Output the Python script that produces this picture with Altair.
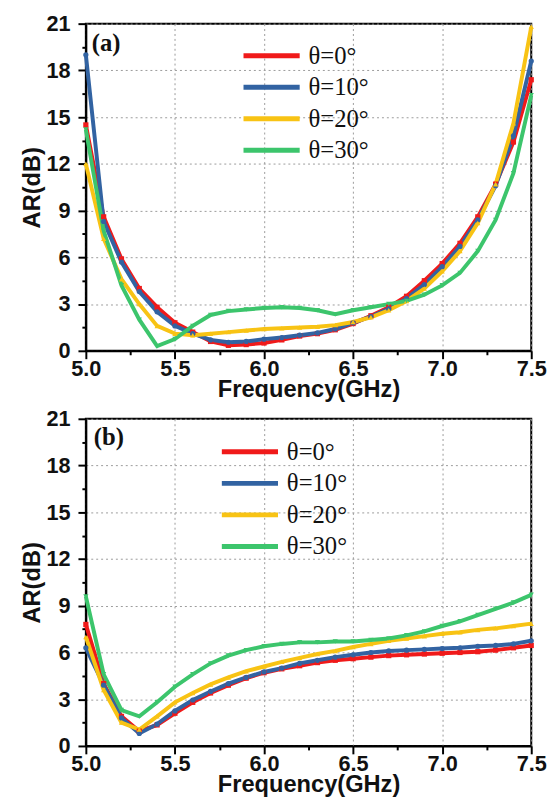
import altair as alt
import pandas as pd

freq = [5.0, 5.1, 5.2, 5.3, 5.4, 5.5, 5.6, 5.7, 5.8, 5.9, 6.0, 6.1, 6.2,
        6.3, 6.4, 6.5, 6.6, 6.7, 6.8, 6.9, 7.0, 7.1, 7.2, 7.3, 7.4, 7.5]

labels = ["θ=0°", "θ=10°", "θ=20°", "θ=30°"]
colors = ["#f01a1a", "#3263a2", "#f8c314", "#3cc56c"]
shapes = ["square", "circle", "triangle-up", "triangle-down"]

# panel (a)
a_0 = [14.5, 8.6, 5.9, 4.0, 2.8, 1.8, 1.2, 0.6, 0.35, 0.4, 0.5, 0.7, 0.95,
       1.1, 1.35, 1.75, 2.25, 2.8, 3.5, 4.5, 5.6, 6.9, 8.6, 10.7, 13.4, 17.4]
a_10 = [19.0, 8.3, 5.7, 3.8, 2.5, 1.6, 1.1, 0.7, 0.55, 0.6, 0.75, 0.85, 1.0,
        1.15, 1.4, 1.8, 2.2, 2.7, 3.35, 4.25, 5.4, 6.7, 8.4, 10.6, 13.8, 18.6]
a_20 = [12.0, 7.2, 4.6, 3.0, 1.6, 1.1, 1.0, 1.1, 1.2, 1.3, 1.4, 1.45, 1.5,
        1.55, 1.65, 1.85, 2.15, 2.6, 3.2, 4.0, 5.1, 6.4, 8.2, 10.7, 14.6, 20.8]
a_30 = [14.2, 7.7, 4.2, 2.0, 0.3, 0.75, 1.6, 2.3, 2.55, 2.65, 2.75, 2.8, 2.75,
        2.6, 2.35, 2.6, 2.8, 3.0, 3.2, 3.6, 4.2, 5.0, 6.4, 8.4, 11.4, 16.4]

# panel (b)
b_0 = [7.8, 4.0, 1.9, 0.95, 1.35, 2.1, 2.8, 3.4, 3.9, 4.35, 4.7, 4.95, 5.15,
       5.35, 5.5, 5.6, 5.7, 5.8, 5.85, 5.9, 5.95, 6.0, 6.05, 6.15, 6.3, 6.45]
b_10 = [6.3, 3.9, 1.8, 0.8, 1.4, 2.25, 2.95, 3.5, 4.0, 4.4, 4.75, 5.0, 5.3,
        5.5, 5.7, 5.85, 6.0, 6.1, 6.15, 6.2, 6.25, 6.3, 6.4, 6.45, 6.55, 6.75]
b_20 = [7.0, 3.6, 1.5, 1.05, 1.9, 2.8, 3.4, 3.95, 4.4, 4.8, 5.1, 5.4, 5.65,
        5.9, 6.1, 6.35, 6.55, 6.75, 6.9, 7.05, 7.2, 7.3, 7.45, 7.55, 7.7, 7.85]
b_30 = [9.6, 4.6, 2.3, 1.9, 2.8, 3.8, 4.6, 5.3, 5.8, 6.15, 6.4, 6.55, 6.65,
        6.65, 6.7, 6.7, 6.8, 6.9, 7.1, 7.35, 7.7, 8.0, 8.4, 8.8, 9.2, 9.7]

x_major = [5.0, 5.5, 6.0, 6.5, 7.0, 7.5]
x_minor = [5.25, 5.75, 6.25, 6.75, 7.25]
y_major = [0, 3, 6, 9, 12, 15, 18, 21]
y_minor = [1.5, 4.5, 7.5, 10.5, 13.5, 16.5, 19.5]

W, H = 452, 332
AXIS_FONT = "Liberation Sans"


def make_df(series):
    rows = []
    for lab, vals in zip(labels, series):
        for f, v in zip(freq, vals):
            rows.append({"f": f, "ar": v, "s": lab})
    return pd.DataFrame(rows)


xscale = alt.Scale(domain=[5.0, 7.5], nice=False, zero=False)
yscale = alt.Scale(domain=[0, 21], nice=False)


def panel(series, tag, lx, ly, tx, ty):
    df = make_df(series)
    x_main = alt.X("f:Q", scale=xscale, axis=alt.Axis(
        title="Frequency(GHz)", values=x_major, format=".1f",
        tickSize=8, grid=True, labelPadding=0, titlePadding=-2, labelFlush=False))
    y_main = alt.Y("ar:Q", scale=yscale, axis=alt.Axis(
        title="AR(dB)", values=y_major, format="d",
        tickSize=8, grid=True, labelPadding=8, titlePadding=2, labelFlush=False))
    x_min = alt.X("f:Q", scale=xscale, axis=alt.Axis(
        orient="bottom", values=x_minor, tickSize=4, labels=False, domain=False,
        grid=False, title=None))
    y_min = alt.Y("ar:Q", scale=yscale, axis=alt.Axis(
        orient="left", values=y_minor, tickSize=4, labels=False, domain=False,
        grid=False, title=None))
    x_pt = alt.X("f:Q", scale=xscale, axis=None)
    y_pt = alt.Y("ar:Q", scale=yscale, axis=None)
    c_line = alt.Color("s:N", scale=alt.Scale(domain=labels, range=colors), sort=labels,
                       legend=alt.Legend(
                           title=None, orient="none", legendX=lx, legendY=ly, padding=0,
                           symbolType="M-3,0H3", symbolSize=361, symbolStrokeWidth=5,
                           labelFont="Liberation Serif", labelFontSize=25, labelColor="#111",
                           labelOffset=25, rowPadding=6))
    base = alt.Chart(df)
    layers = [base.mark_line(strokeWidth=4).encode(x=x_main, y=y_main, color=c_line)]
    for i, lab in enumerate(labels):
        layers.append(
            base.transform_filter(alt.datum.s == lab)
            .mark_point(filled=True, size=28, opacity=1, color=colors[i], shape=shapes[i])
            .encode(x=x_pt if i else x_min, y=y_pt if i else y_min)
        )
    tagdf = pd.DataFrame({"t": [tag]})
    layers.append(alt.Chart(tagdf).mark_text(
        font="Liberation Serif", fontSize=25, fontWeight="bold",
        align="left", baseline="middle", color="#111",
    ).encode(text="t:N", x=alt.value(tx), y=alt.value(ty)))
    return (alt.layer(*layers)
            .resolve_axis(x="independent", y="independent")
            .properties(width=W, height=H))


top = panel([a_0, a_10, a_20, a_30], "(a)", 176, 20, 6, 20)
bottom = panel([b_0, b_10, b_20, b_30], "(b)", 154, 21, 8, 19)

chart = (
    alt.vconcat(top, bottom, spacing=69, bounds="flush")
    .resolve_scale(color="independent")
    .resolve_legend(color="independent")
    .properties(padding={"left": 11, "top": -2, "right": 0, "bottom": 0})
    .configure_view(stroke="black", strokeWidth=2)
    .configure_axis(
        domainColor="black", domainWidth=2,
        tickColor="black", tickWidth=2,
        gridColor="#9a9a9a", gridDash=[2, 3], gridWidth=1,
        labelFont=AXIS_FONT, labelFontSize=22, labelFontWeight="bold", labelColor="#111",
        titleFont=AXIS_FONT, titleFontSize=24, titleFontWeight="bold", titleColor="#111",
    )
)

chart.save("out.html", embed_options={"renderer": "svg", "actions": False})
